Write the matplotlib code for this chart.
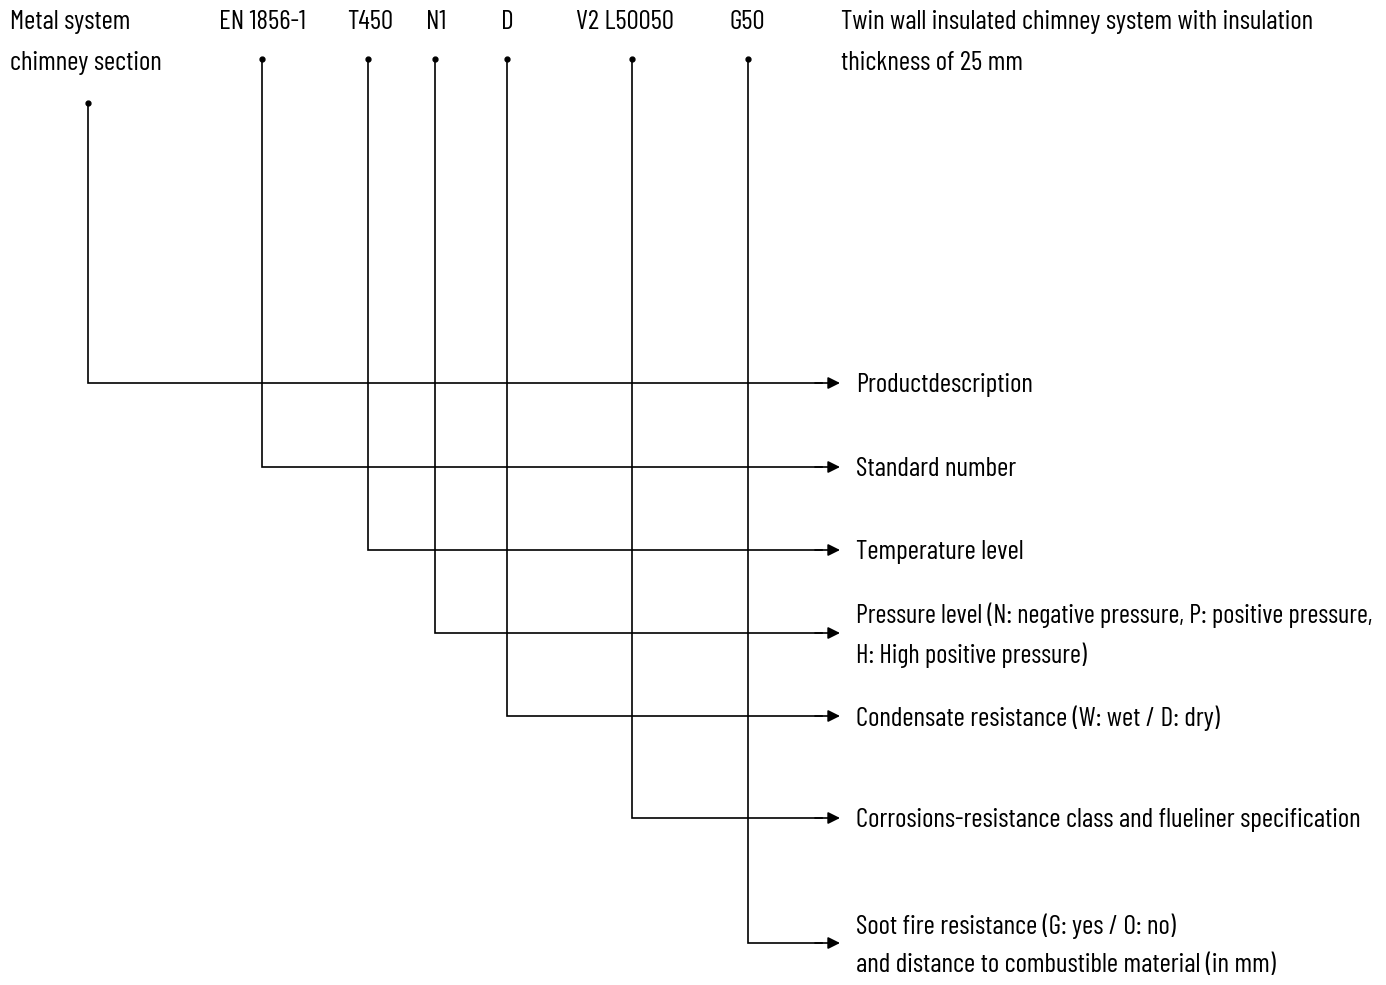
import matplotlib.pyplot as plt
from matplotlib import font_manager

# code parts along the top, with the position of their leader line
codes = ["EN 1856-1", "T450", "N1", "D", "V2 L50050", "G50"]
code_x = [262, 368, 435, 507, 632, 748]
code_text_x = [262, 370, 436, 507, 625, 747]

# explanations on the right
meanings = ["Productdescription",
            "Standard number",
            "Temperature level",
            "Pressure level (N: negative pressure, P: positive pressure,\nH: High positive pressure)",
            "Condensate resistance (W: wet / D: dry)",
            "Corrosions-resistance class and flueliner specification",
            "Soot fire resistance (G: yes / O: no)\nand distance to combustible material (in mm)"]
arrow_y = [383, 467, 550, 633, 716, 818, 943]

names = set(f.name for f in font_manager.fontManager.ttflist)
fams = [f for f in ['Barlow Condensed', 'Roboto Condensed', 'Saira Condensed', 'Archivo Narrow']
        if f in names]
plt.rcParams['font.family'] = fams[:1] + ['DejaVu Sans']

fig = plt.figure(figsize=(13.86, 9.85), dpi=100)
ax = fig.add_axes([0, 0, 1, 1])
ax.set_xlim(0, 1386)
ax.set_ylim(985, 0)
ax.axis('off')

fs = 19.6
ax.text(10, 22, "Metal system", fontsize=fs, va='center', ha='left')
ax.text(10, 63, "chimney section", fontsize=fs, va='center', ha='left')
ax.text(841, 22, "Twin wall insulated chimney system with insulation", fontsize=fs, va='center', ha='left')
ax.text(841, 63, "thickness of 25 mm", fontsize=fs, va='center', ha='left')

for t, x in zip(codes, code_text_x):
    ax.text(x, 22, t, fontsize=fs, ha='center', va='center')

xs = [88] + code_x
tops = [103] + [59] * len(code_x)
for x, top, y, m in zip(xs, tops, arrow_y, meanings):
    ax.plot([x, x, 822], [top, y, y], color='black', lw=1.2, solid_joinstyle='miter')
    ax.plot(x, top, 'o', color='black', ms=3.5)
    ax.annotate("", xy=(840, y), xytext=(815, y),
                arrowprops=dict(arrowstyle='-|>', color='black', lw=1.2,
                                mutation_scale=18, shrinkA=0, shrinkB=0))
    size = 19.1 if m.startswith("Pressure") else fs
    ax.text(856, y + 2, m, fontsize=size, ha='left', va='center', linespacing=1.72)

fig.savefig("out.png", dpi=100)
